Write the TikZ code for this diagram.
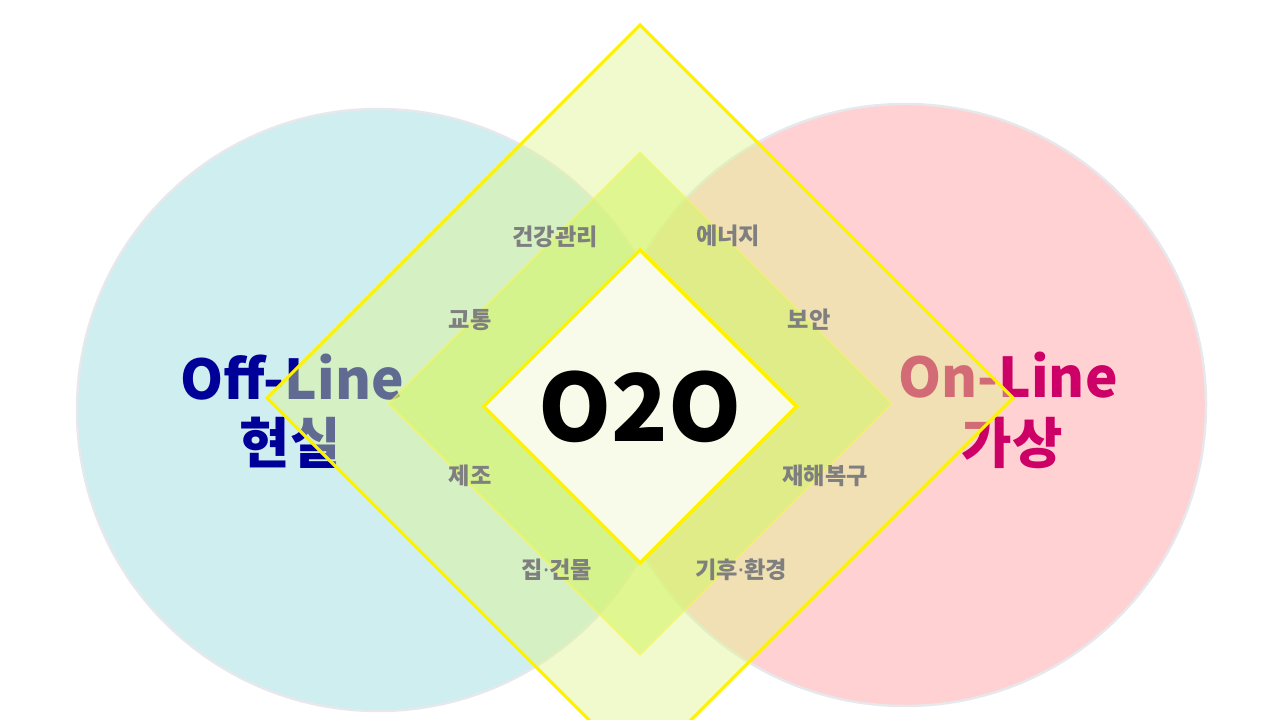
\documentclass[tikz,border=0pt]{standalone}
\usepackage{fontspec}
\setmainfont{Noto Sans CJK KR}
\newfontfamily\dotfont{Noto Sans}
\definecolor{offfill}{HTML}{CFEEF0}
\definecolor{onfill}{HTML}{FFD1D3}
\definecolor{ringline}{HTML}{E6E8EC}
\definecolor{outerfill}{HTML}{DDF48B}
\definecolor{midfill}{HTML}{D6F56A}
\definecolor{corefill}{HTML}{F8FBE9}
\definecolor{offtext}{HTML}{000099}
\definecolor{ontext}{HTML}{CC0066}
\definecolor{tagtext}{HTML}{7F7F7F}
\newcommand{\sepdot}{{\dotfont\bfseries ·}}
\begin{document}
\begin{tikzpicture}[
    ringline/.style={draw=ringline, line width=0.7pt},
    bigdia/.style={draw=yellow, line width=0.9pt, fill=outerfill, fill opacity=0.44},
    middia/.style={draw=yellow!70, draw opacity=0.5, line width=0.5pt, fill=midfill, fill opacity=0.6},
    coredia/.style={draw=yellow, line width=1pt, fill=corefill},
    sidefont/.style={font=\fontsize{15.6}{18}\bfseries, inner sep=0pt, anchor=base},
    tagfont/.style={font=\fontsize{6.6}{7}\bfseries, text=tagtext, inner sep=0pt}
  ]
  \useasboundingbox (0,0) rectangle (12.8,7.2);

  \coordinate (offc) at (3.78,3.10);
  \coordinate (onc) at (9.05,3.15);
  \coordinate (bigc) at (6.40,3.22);
  \coordinate (midc) at (6.40,3.165);
  \coordinate (corec) at (6.40,3.135);

  \fill[offfill] (offc) circle (3.01);
  \draw[ringline] (offc) circle (3.01);
  \fill[onfill] (onc) circle (3.01);
  \draw[ringline] (onc) circle (3.01);

  \node[sidefont, text=offtext] (offen) at (2.92,3.20) {Off-Line};
  \node[sidefont, text=offtext] (offko) at (2.90,2.56) {현실};
  \node[sidefont, text=ontext] (onen) at (10.08,3.22) {On-Line};
  \node[sidefont, text=ontext] (onko) at (10.12,2.56) {가상};

  \draw[bigdia] (bigc) ++(0,3.73) -- ++(3.73,-3.73) -- ++(-3.73,-3.73) -- ++(-3.73,3.73) -- cycle;
  \draw[middia] (midc) ++(0,2.515) -- ++(2.515,-2.515) -- ++(-2.515,-2.515) -- ++(-2.515,2.515) -- cycle;
  \draw[coredia] (corec) ++(0,1.565) -- ++(1.565,-1.565) -- ++(-1.565,-1.565) -- ++(-1.565,1.565) -- cycle;

  \node[tagfont] (health) at (5.55,4.83) {건강관리};
  \node[tagfont] (energy) at (7.28,4.84) {에너지};
  \node[tagfont] (traffic) at (4.70,4.00) {교통};
  \node[tagfont] (security) at (8.09,4.00) {보안};
  \node[tagfont] (making) at (4.70,2.44) {제조};
  \node[tagfont] (recovery) at (8.25,2.44) {재해복구};
  \node[tagfont] (house) at (5.57,1.50) {집\sepdot 건물};
  \node[tagfont] (climate) at (7.41,1.50) {기후\sepdot 환경};

  \node[font=\fontsize{26.5}{30}\bfseries, inner sep=0pt, anchor=base] (o2o) at (6.40,2.78) {O2O};
\end{tikzpicture}
\end{document}
